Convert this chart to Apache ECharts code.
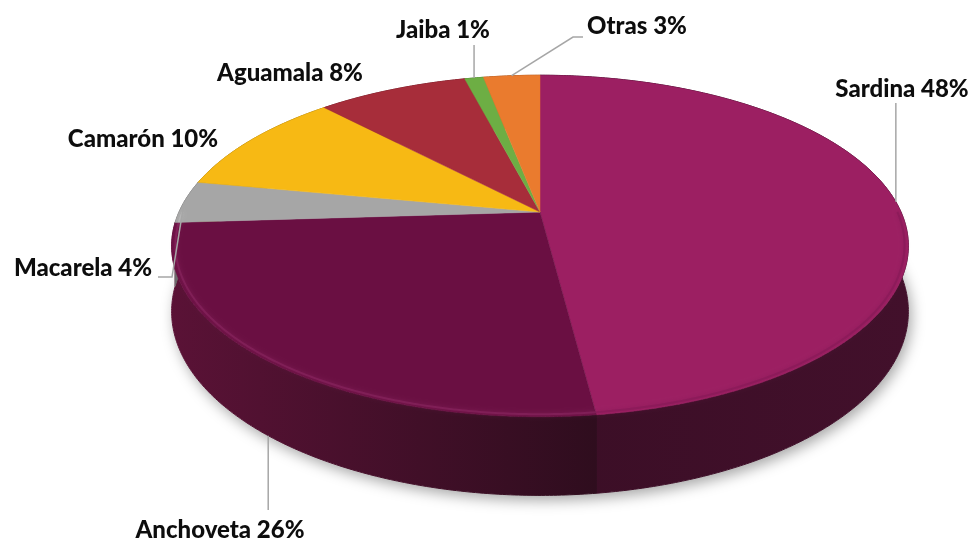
<!DOCTYPE html>
<html>
<head>
<meta charset="utf-8">
<script src="https://cdn.jsdelivr.net/npm/echarts@6/dist/echarts.min.js"></script>
<style>
  html, body { margin: 0; padding: 0; background: #ffffff; }
  #chart { width: 973px; height: 542px; }
</style>
</head>
<body>
<div id="chart"></div>
<script>
// Landings by species, share of total (%)
const categories = ['Sardina', 'Anchoveta', 'Macarela', 'Camarón', 'Aguamala', 'Jaiba', 'Otras'];
const shares = [48, 26, 4, 10, 8, 1, 3];

// Slice colours: top face, rim bevel and side wall (left -> right shade)
const topColors = ['#9C1F62', '#6A0F42', '#A6A6A6', '#F7B914', '#A72D3A', '#6DAE44', '#EA7B2E'];
const rimColors = ['#861956', '#8A2760', '#BDBDBD', '#FBD060', '#BD4A56', '#8CC468', '#F09A5C'];
const sideColors = [
  ['#3B0E26', '#42102B'],
  ['#5A1236', '#2F0D1E'],
  ['#6E6E6E', '#6E6E6E'],
  ['#A57A0C', '#A57A0C'],
  ['#6E1D26', '#6E1D26'],
  ['#477A2B', '#477A2B'],
  ['#9D501D', '#9D501D']
];

// Label placement: text centre, which rim the leader starts from, leader bend points
// (a null x keeps the leader vertical above/below its anchor)
const labelPlacement = [
  { text: [902, 89],  rim: 'top',    leader: [[null, 103]] },
  { text: [220, 530], rim: 'bottom', leader: [[null, 510]] },
  { text: [83, 268],  rim: 'top',    leader: [[172, 277], [158, 277]] },
  { text: [143, 139], rim: 'top',    leader: null },
  { text: [290, 73],  rim: 'top',    leader: null },
  { text: [443, 30],  rim: 'top',    leader: [[null, 45]] },
  { text: [637, 26],  rim: 'top',    leader: [[573, 37], [583, 37]] }
];

// Perspective disc: centre, radii, foreshortening and wall depth
const PIE = { cx: 540, cy: 212, rx: 361, ry: 164, k: 0.199, depth: 63 };

const total = shares.reduce((a, b) => a + b, 0);
const startFrac = [];
let acc = 0;
shares.forEach(v => { startFrac.push(acc / total); acc += v; });

// theta measured clockwise from 12 o'clock; drop pushes the point down to the base of the wall,
// scale < 1 pulls the point in towards the centre of the disc
function project(theta, drop, scale) {
  const s = scale === undefined ? 1 : scale;
  const u = Math.sin(theta) * s;
  const v = -Math.cos(theta) * s;
  const d = 1 - PIE.k * v;
  return [PIE.cx + PIE.rx * u / d, PIE.cy + (PIE.ry * v + drop) / d];
}

function arc(a0, a1, drop, scale) {
  const pts = [];
  const n = Math.max(2, Math.ceil(Math.abs(a1 - a0) / (Math.PI / 360)));
  for (let i = 0; i <= n; i++) pts.push(project(a0 + (a1 - a0) * i / n, drop, scale));
  return pts;
}

function sliceAngles(i) {
  const a0 = startFrac[i] * Math.PI * 2;
  const a1 = (startFrac[i] + shares[i] / total) * Math.PI * 2;
  return [a0, a1];
}

function renderSide(params) {
  const i = params.dataIndex;
  const [a0, a1] = sliceAngles(i);
  const children = [];
  if (i === 0) {
    // soft ground shadow under the whole disc
    const base = arc(0, Math.PI * 2, PIE.depth);
    children.push({
      type: 'polygon',
      shape: { points: base },
      style: { fill: '#ffffff', shadowBlur: 14, shadowOffsetX: 3, shadowOffsetY: 5, shadowColor: 'rgba(0,0,0,0.35)' }
    });
  }
  const top = arc(a0, a1, 0);
  const bottom = arc(a0, a1, PIE.depth).reverse();
  const shade = () => new echarts.graphic.LinearGradient(0, 0, 1, 0, [
    { offset: 0, color: sideColors[i][0] },
    { offset: 1, color: sideColors[i][1] }
  ]);
  children.push({
    type: 'polygon',
    shape: { points: top.concat(bottom) },
    style: { fill: shade(), stroke: shade(), lineWidth: 1 }
  });
  return { type: 'group', children };
}

function renderTop(params) {
  const i = params.dataIndex;
  const [a0, a1] = sliceAngles(i);
  const pts = [[PIE.cx, PIE.cy]].concat(arc(a0, a1, 0));
  const children = [{
    type: 'polygon',
    shape: { points: pts },
    style: { fill: topColors[i], stroke: topColors[i], lineWidth: 0.5 }
  }];

  // soft bevel running just inside the front half of the rim
  const f0 = Math.max(a0, Math.PI * 0.5);
  const f1 = Math.min(a1, Math.PI * 1.5);
  if (f1 > f0) {
    children.push({
      type: 'polyline',
      shape: { points: arc(f0, f1, 0, 0.99) },
      style: { stroke: rimColors[i], lineWidth: 2, fill: null, opacity: 0.6, shadowBlur: 4, shadowColor: rimColors[i] }
    });
  }

  const place = labelPlacement[i];
  const mid = (a0 + a1) / 2;
  if (place.leader) {
    const anchor = project(mid, place.rim === 'bottom' ? PIE.depth : 0);
    const line = [anchor];
    place.leader.forEach(p => line.push([p[0] === null ? anchor[0] : p[0], p[1]]));
    children.push({
      type: 'polyline',
      shape: { points: line },
      style: { stroke: '#A6A6A6', lineWidth: 1.5, fill: null }
    });
  }
  children.push({
    type: 'text',
    x: place.text[0],
    y: place.text[1],
    style: {
      text: categories[i] + ' ' + shares[i] + '%',
      font: '900 24px Lato, "Open Sans", sans-serif',
      fill: '#0D0D0D',
      align: 'center',
      verticalAlign: 'middle'
    }
  });
  return { type: 'group', children };
}

const seriesData = shares.map((v, i) => ({ name: categories[i], value: v }));

const chart = echarts.init(document.getElementById('chart'), null, { renderer: 'canvas' });
chart.setOption({
  backgroundColor: '#ffffff',
  animation: false,
  series: [
    { type: 'custom', coordinateSystem: 'none', silent: true, z: 1, data: seriesData, renderItem: renderSide },
    { type: 'custom', coordinateSystem: 'none', silent: true, z: 2, data: seriesData, renderItem: renderTop }
  ]
});
</script>
</body>
</html>
